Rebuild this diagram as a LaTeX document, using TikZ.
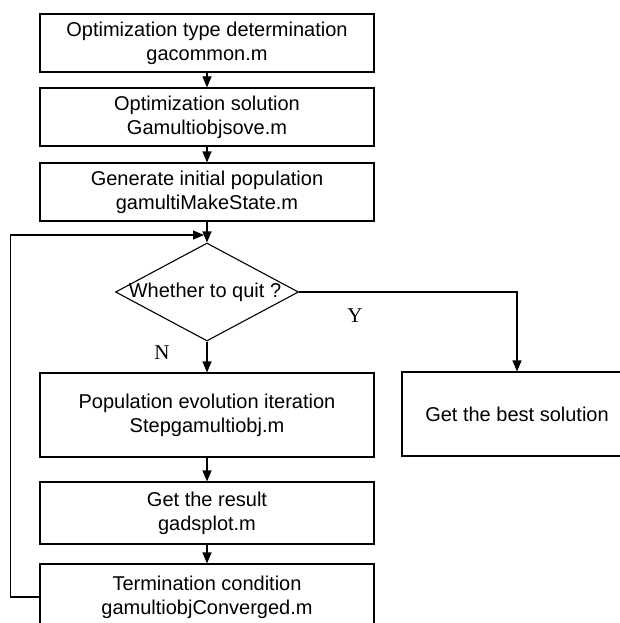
\documentclass[tikz,border=0pt]{standalone}
\usepackage{fontspec}
\setmainfont{Liberation Sans}
\newfontfamily\serifyn{Liberation Serif}
\usetikzlibrary{arrows.meta,shapes.geometric}
\begin{document}
\begin{tikzpicture}[x=1pt,y=-1pt,
  box/.style={draw,line width=1.1pt,minimum width=334pt,inner sep=0pt,align=center,font=\fontsize{20}{24}\selectfont},
  arr/.style={line width=1.1pt,-{Triangle[length=11pt,width=9pt]}},
  yn/.style={font=\serifyn\fontsize{21}{24}\selectfont}]
\useasboundingbox (0,0) rectangle (620,623);
\clip (0,0) rectangle (620,623);
\node[box,minimum height=58pt] (b1) at (207,43) {Optimization type determination\\gacommon.m};
\node[box,minimum height=58pt] (b2) at (207,117) {Optimization solution\\Gamultiobjsove.m};
\node[box,minimum height=58pt] (b3) at (207,192) {Generate initial population\\gamultiMakeState.m};
\node[diamond,draw,line width=1.1pt,minimum width=183pt,minimum height=98pt,inner sep=0pt] (dia) at (207,292) {};
\node[font=\fontsize{20}{24}\selectfont] (diat) at (205,292) {Whether to quit ?};
\node[box,minimum height=84pt] (b4) at (207,415) {Population evolution iteration\\Stepgamultiobj.m};
\node[box,minimum width=230pt,minimum height=84pt] (best) at (517,414) {Get the best solution};
\node[box,minimum height=62pt] (b5) at (207,513) {Get the result\\gadsplot.m};
\node[box,minimum height=66pt] (b6) at (207,597) {Termination condition\\gamultiobjConverged.m};
\node[yn] (ylab) at (355,316) {Y};
\node[yn] (nlab) at (162,353) {N};
\coordinate (loopend) at (204,235);
\draw[arr] (b1) -- (b2);
\draw[arr] (b2) -- (b3);
\draw[arr] (b3) -- (dia.north);
\draw[arr] (dia.south) -- (b4.north);
\draw[arr] (dia.east) -| (best.north);
\draw[arr] (b4) -- (b5);
\draw[arr] (b5) -- (b6);
\draw[arr] (b6.west) -- ++(-29,0) |- (loopend);
\end{tikzpicture}
\end{document}
